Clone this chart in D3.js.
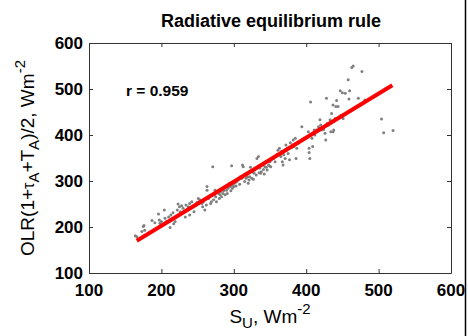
<!DOCTYPE html>
<html>
<head>
<meta charset="utf-8">
<script src="https://cdn.jsdelivr.net/npm/d3@7"></script>
<style>
  body { margin: 0; background: #fff; }
  svg { display: block; font-family: "Liberation Sans", Arial, sans-serif; }
</style>
</head>
<body>
<div class="content"></div>
<script>
const SVGWIDTH = 468
const SVGHEIGHT = 336

// axis ranges and tick labels
const x_ticks = [100, 200, 300, 400, 500, 600]
const y_ticks = [100, 200, 300, 400, 500, 600]

// scatter points: S_U and OLR(1+tauA+TA)/2
const su_values = [164,166,173,175,176,177,187,191,196,197,198,200,204,205,207,210,212,213,214,216,
  217,219,220,222,223,225,226,228,230,233,234,236,237,239,239,242,243,245,246,249,
  251,253,256,257,258,260,262,263,263,265,266,268,269,271,272,273,274,275,276,279,
  280,281,282,283,285,286,286,288,289,290,291,292,294,295,296,297,297,298,299,300,
  302,303,304,306,308,309,311,312,313,314,315,317,318,319,320,321,322,323,325,326,
  327,328,329,331,332,334,335,336,337,338,340,341,342,343,344,345,346,348,349,350,
  351,352,355,357,359,361,363,364,365,366,367,368,369,371,372,373,374,375,377,378,
  380,381,382,383,385,386,387,389,394,403,404,404,405,406,408,409,410,411,412,414,
  417,418,419,420,421,424,426,427,428,429,431,433,434,435,437,437,438,440,441,442,
  444,446,447,448,450,451,454,458,460,459,463,465,472,477,481,504,507,520]
const olr_values = [181,179,190,201,203,193,214,209,228,215,208,212,237,219,212,222,199,226,215,231,
  207,212,222,237,250,244,233,246,241,222,248,237,244,226,251,255,244,233,248,253,
  262,259,251,244,255,237,248,280,288,262,266,251,255,331,259,270,280,266,255,273,
  262,270,277,266,273,279,284,270,288,280,273,284,295,288,279,333,291,284,293,288,
  296,289,299,302,293,309,306,335,331,313,299,306,317,309,295,302,309,330,306,320,
  304,317,324,313,349,353,318,328,317,320,335,325,315,331,340,330,324,335,333,342,
  331,346,349,342,357,367,371,360,353,364,342,335,357,349,378,367,371,360,346,383,
  373,378,389,375,393,349,371,382,418,407,371,362,349,472,393,375,405,411,400,411,
  418,414,433,422,411,412,404,389,480,425,422,433,407,447,465,407,411,436,462,475,
  462,440,496,443,492,436,491,520,496,478,547,550,480,538,476,435,405,410]

// regression line end points
const fit_su = [166, 519]
const fit_olr = [170, 508]

const r_value = 0.959

const svg = d3.select(".content").append("svg").attr("width", SVGWIDTH).attr("height", SVGHEIGHT)

const m_left = 89, m_right = 451, m_top = 43, m_bottom = 273

let xscale = d3.scaleLinear().domain([100, 600]).range([m_left, m_right])
let yscale = d3.scaleLinear().domain([100, 600]).range([m_bottom, m_top])

const frame = "#333"

// ticks on all four sides, pointing inwards
let xaxis_b = d3.axisBottom(xscale).tickValues(x_ticks).tickSizeInner(-4).tickSizeOuter(0).tickFormat("")
let xaxis_t = d3.axisTop(xscale).tickValues(x_ticks).tickSizeInner(-4).tickSizeOuter(0).tickFormat("")
let yaxis_l = d3.axisLeft(yscale).tickValues(y_ticks).tickSizeInner(-4).tickSizeOuter(0).tickFormat("")
let yaxis_r = d3.axisRight(yscale).tickValues(y_ticks).tickSizeInner(-4).tickSizeOuter(0).tickFormat("")

svg.append("g").attr("transform", `translate(0,${m_bottom})`).call(xaxis_b)
svg.append("g").attr("transform", `translate(0,${m_top})`).call(xaxis_t)
svg.append("g").attr("transform", `translate(${m_left},0)`).call(yaxis_l)
svg.append("g").attr("transform", `translate(${m_right},0)`).call(yaxis_r)
svg.selectAll(".domain, .tick line").attr("stroke", frame).attr("stroke-width", 1)

// tick labels
svg.append("g").selectAll("text")
  .data(x_ticks)
  .join("text")
  .attr("x", d => xscale(d))
  .attr("y", 296)
  .attr("text-anchor", "middle")
  .style("font-weight", "bold")
  .style("font-size", "17px")
  .text(d => d)

svg.append("g").selectAll("text")
  .data(y_ticks)
  .join("text")
  .attr("x", m_left - 6)
  .attr("y", d => yscale(d) + 6)
  .attr("text-anchor", "end")
  .style("font-weight", "bold")
  .style("font-size", "17px")
  .text(d => d)

// points
let points = su_values.map((s, i) => ({su: s, olr: olr_values[i]}))
svg.append("g").selectAll("circle")
  .data(points)
  .join("circle")
  .attr("cx", d => xscale(d.su))
  .attr("cy", d => yscale(d.olr))
  .attr("r", 1.5)
  .attr("fill", "#808080")

// fit line
let line = d3.line().x(d => xscale(d[0])).y(d => yscale(d[1]))
svg.append("path")
  .attr("d", line(fit_su.map((s, i) => [s, fit_olr[i]])))
  .attr("stroke", "#ff0000")
  .attr("stroke-width", 4)
  .attr("fill", "none")

// title
svg.append("text")
  .attr("x", 271).attr("y", 27)
  .attr("text-anchor", "middle")
  .style("font-weight", "bold")
  .style("font-size", "18px")
  .text("Radiative equilibrium rule")

// r annotation
svg.append("text")
  .attr("x", 126).attr("y", 96)
  .style("font-weight", "bold")
  .style("font-size", "15.5px")
  .text("r = " + r_value)

// x label
let xl = svg.append("text")
  .attr("x", (m_left + m_right) / 2).attr("y", 323)
  .attr("text-anchor", "middle")
  .style("font-size", "19px")
xl.append("tspan").text("S")
xl.append("tspan").attr("dy", 5).style("font-size", "15px").text("U")
xl.append("tspan").attr("dy", -5).text(", Wm")
xl.append("tspan").attr("dy", -9).style("font-size", "15px").text("-2")

// y label
let yl = svg.append("text")
  .attr("transform", `translate(34,${(m_top + m_bottom) / 2}) rotate(-90)`)
  .attr("text-anchor", "middle")
  .style("font-size", "19px")
yl.append("tspan").text("OLR(1+")
yl.append("tspan").style("font-size", "16px").text("τ")
yl.append("tspan").attr("dy", 5).style("font-size", "15px").text("A")
yl.append("tspan").attr("dy", -5).text("+T")
yl.append("tspan").attr("dy", 5).style("font-size", "15px").text("A")
yl.append("tspan").attr("dy", -5).text(")/2, Wm")
yl.append("tspan").attr("dy", -9).style("font-size", "15px").text("-2")

// figure edge line at right
svg.append("line")
  .attr("x1", 465.5).attr("x2", 465.5).attr("y1", 0).attr("y2", SVGHEIGHT)
  .attr("stroke", "#000").attr("stroke-width", 1.5)
</script>
</body>
</html>
